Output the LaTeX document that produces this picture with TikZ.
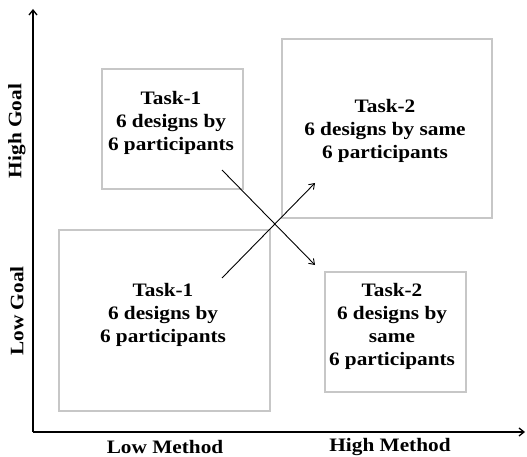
\documentclass[tikz,border=0pt]{standalone}
\usepackage{fontspec}
\setmainfont{Liberation Serif}[FakeStretch=1.12]
\usetikzlibrary{arrows.meta}
\begin{document}
\begin{tikzpicture}[x=1pt,y=-1pt,
  box/.style={draw=black!22,line width=2pt,fill=none},
  lbl/.style={font=\fontsize{19}{23}\selectfont\bfseries,align=center,inner sep=0pt},
  axis/.style={line width=1.3pt,-{Straight Barb[length=5pt,width=8pt]}},
  flow/.style={line width=0.9pt,-{Straight Barb[length=5pt,width=7pt]}}]
\useasboundingbox (0,0) rectangle (527,457);
% boxes
\draw[box] (102,69) rectangle (243,189);
\draw[box] (282,39) rectangle (492,218);
\draw[box] (59,230) rectangle (270,411);
\draw[box] (325,272) rectangle (466,392);
% texts
\node[lbl] (tl) at (171,123) {Task-1\\6 designs by\\6 participants};
\node[lbl] (tr) at (385,131) {Task-2\\6 designs by same\\6 participants};
\node[lbl] (bl) at (163,315) {Task-1\\6 designs by\\6 participants};
\node[lbl] (br) at (392,326) {Task-2\\6 designs by\\same\\6 participants};
% axes
\coordinate (o) at (33,432);
\coordinate (ytop) at (33,9);
\coordinate (xend) at (525,432);
\draw[axis] (o) -- (ytop);
\draw[axis] (o) -- (xend);
\node[lbl,rotate=90] (hg) at (17,131) {High Goal};
\node[lbl,rotate=90] (lg) at (17,311) {Low Goal};
\node[lbl] (lm) at (165,447) {Low Method};
\node[lbl] (hm) at (390,447) {High Method};
% crossing arrows
\coordinate (a1s) at (222,170);
\coordinate (a1e) at (315,265);
\coordinate (a2s) at (222,278);
\coordinate (a2e) at (315,183);
\draw[flow] (a1s) -- (a1e);
\draw[flow] (a2s) -- (a2e);
\end{tikzpicture}
\end{document}
